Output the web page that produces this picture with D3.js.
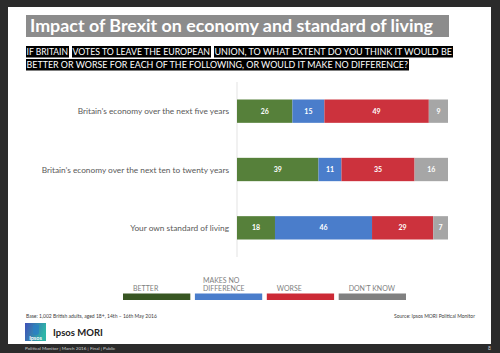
<!DOCTYPE html>
<html>
<head>
<meta charset="utf-8">
<script src="https://cdn.jsdelivr.net/npm/d3@7"></script>
<style>
  html, body { margin: 0; padding: 0; background: #2b2b2b; }
  svg { display: block; font-family: Lato, "Open Sans", sans-serif; }
</style>
</head>
<body>
<script>
// data
var categories = ["Britain\u2019s economy over the next five years",
                  "Britain\u2019s economy over the next ten to twenty years",
                  "Your own standard of living"];
var responses = ["BETTER", "MAKES NO DIFFERENCE", "WORSE", "DON\u2019T KNOW"];
var better     = [26, 39, 18];
var noDiff     = [15, 11, 46];
var worse      = [49, 35, 29];
var dontKnow   = [9, 16, 7];

var barColors    = ["#56803a", "#4a7dcb", "#cc323d", "#a6a6a6"];
var legendColors = ["#385623", "#4a7dcb", "#cc2a36", "#808080"];

var width = 500, height = 353;

var svg = d3.select("body").append("svg")
    .attr("width", width)
    .attr("height", height);

// slide
svg.append("rect").attr("x", 0).attr("y", 0).attr("width", width).attr("height", height).attr("fill", "#2b2b2b");
svg.append("rect").attr("x", 8).attr("y", 7).attr("width", 483).attr("height", 337).attr("fill", "#fff");

// title
svg.append("rect").attr("x", 26).attr("y", 15).attr("width", 423).attr("height", 22).attr("fill", "#8c8c8c");
svg.append("text").attr("x", 30).attr("y", 32)
    .attr("fill", "#fff").attr("font-weight", "bold").attr("font-size", 16.5)
    .attr("textLength", 403).attr("lengthAdjust", "spacingAndGlyphs")
    .text("Impact of Brexit on economy and standard of living");

// question, white on black boxes (box widths copied from the slide)
var qParts = [
  { t: "IF BRITAIN", x: 26, y: 55, w: 43 },
  { t: "VOTES TO LEAVE THE EUROPEAN", x: 72, y: 55, w: 139 },
  { t: "UNION, TO WHAT EXTENT DO YOU THINK IT WOULD BE", x: 214, y: 55, w: 239 },
  { t: "BETTER OR WORSE FOR EACH OF THE FOLLOWING, OR WOULD IT MAKE NO DIFFERENCE?", x: 26, y: 68, w: 383 }
];
qParts.forEach(function(p) {
  svg.append("rect").attr("fill", "#000")
      .attr("x", p.x).attr("y", p.y - 9).attr("width", p.w).attr("height", 11.5);
  svg.append("text").attr("x", p.x + 0.5).attr("y", p.y)
      .attr("fill", "#fff").attr("font-size", 9)
      .attr("textLength", p.w - 1.5).attr("lengthAdjust", "spacingAndGlyphs")
      .text(p.t);
});

// stacked bars
var rows = categories.map(function(c, i) {
  return { cat: c, b: better[i], n: noDiff[i], w: worse[i], d: dontKnow[i] };
});
var keys = ["b", "n", "w", "d"];
var stack = d3.stack().keys(keys).offset(d3.stackOffsetExpand);
var series = stack(rows);

var x = d3.scaleLinear().domain([0, 1]).range([237, 448]);
var y = d3.scaleBand().domain(categories).range([82, 257]).paddingInner(0.6).paddingOuter(0.3);

svg.append("line")
    .attr("x1", 237).attr("x2", 237).attr("y1", 82).attr("y2", 257)
    .attr("stroke", "#e3e3e3").attr("stroke-width", 1);

var layer = svg.selectAll(".layer").data(series).enter().append("g")
    .attr("fill", function(d, i) { return barColors[i]; });

layer.selectAll("rect").data(function(d) { return d; }).enter().append("rect")
    .attr("x", function(d) { return x(d[0]); })
    .attr("y", function(d) { return y(d.data.cat); })
    .attr("width", function(d) { return x(d[1]) - x(d[0]); })
    .attr("height", y.bandwidth());

layer.each(function(s) {
  d3.select(this).selectAll("text").data(s).enter().append("text")
    .attr("x", function(d) { return (x(d[0]) + x(d[1])) / 2; })
    .attr("y", function(d) { return y(d.data.cat) + y.bandwidth() / 2 + 2.5; })
    .attr("text-anchor", "middle")
    .attr("fill", "#fff").attr("font-weight", "bold").attr("font-size", 7)
    .text(function(d) { return d.data[s.key]; });
});

// category labels
svg.selectAll(".cat").data(categories).enter().append("text")
    .attr("x", 229)
    .attr("y", function(d) { return y(d) + y.bandwidth() / 2 + 3; })
    .attr("text-anchor", "end")
    .attr("fill", "#595959").attr("font-size", 8.3)
    .text(function(d) { return d; });

// legend
var lx = d3.scaleBand().domain(responses).range([123, 407]).paddingInner(0.05);
var leg = svg.selectAll(".leg").data(responses).enter().append("g");
leg.append("rect")
    .attr("x", function(d) { return lx(d); })
    .attr("y", 293.5).attr("width", lx.bandwidth() - 1).attr("height", 6.5)
    .attr("fill", function(d, i) { return legendColors[i]; });
leg.append("text")
    .attr("x", function(d) { return lx(d) + 10; })
    .attr("y", 291)
    .attr("fill", "#808080").attr("font-size", 7)
    .each(function(d) {
      var t = d3.select(this);
      if (d === "MAKES NO DIFFERENCE") {
        t.append("tspan").attr("x", lx(d) + 8).attr("dy", -8.5).text("MAKES NO");
        t.append("tspan").attr("x", lx(d) + 8).attr("dy", 8.5).text("DIFFERENCE");
      } else {
        t.text(d);
      }
    });

// base and source
svg.append("text").attr("x", 26).attr("y", 317.5)
    .attr("fill", "#404040").attr("font-size", 5)
    .text("Base: 1,002 British adults, aged 18+, 14th \u2013 16th May 2016");
svg.append("text").attr("x", 475).attr("y", 317.5).attr("text-anchor", "end")
    .attr("fill", "#404040").attr("font-size", 5)
    .text("Source: Ipsos MORI Political Monitor");

// logo
var grad = svg.append("defs").append("linearGradient").attr("id", "lg")
    .attr("x1", "0").attr("y1", "0").attr("x2", "1").attr("y2", "0.3");
grad.append("stop").attr("offset", "0").attr("stop-color", "#3f4fb8");
grad.append("stop").attr("offset", "1").attr("stop-color", "#2fb5a8");
svg.append("rect").attr("x", 25).attr("y", 323).attr("width", 21).attr("height", 18).attr("fill", "url(#lg)");
svg.append("path").attr("d", "M33,325 h6 v7 a3,3 0 0 1 -6,0 z").attr("fill", "#2a7fc4").attr("opacity", 0.8);
svg.append("text").attr("x", 35.5).attr("y", 339.5).attr("text-anchor", "middle")
    .attr("fill", "#fff").attr("font-size", 5.5).attr("font-weight", "bold").text("Ipsos");
svg.append("text").attr("x", 53).attr("y", 336)
    .attr("fill", "#222").attr("font-size", 9.5).attr("font-weight", "bold").text("Ipsos MORI");

// footer
svg.append("text").attr("x", 25).attr("y", 350)
    .attr("fill", "#cfcfcf").attr("font-size", 4.6)
    .text("Political Monitor | March 2016 | Final | Public");
svg.append("text").attr("x", 491).attr("y", 350).attr("text-anchor", "end")
    .attr("fill", "#cfcfcf").attr("font-size", 5).text("8");
</script>
</body>
</html>
